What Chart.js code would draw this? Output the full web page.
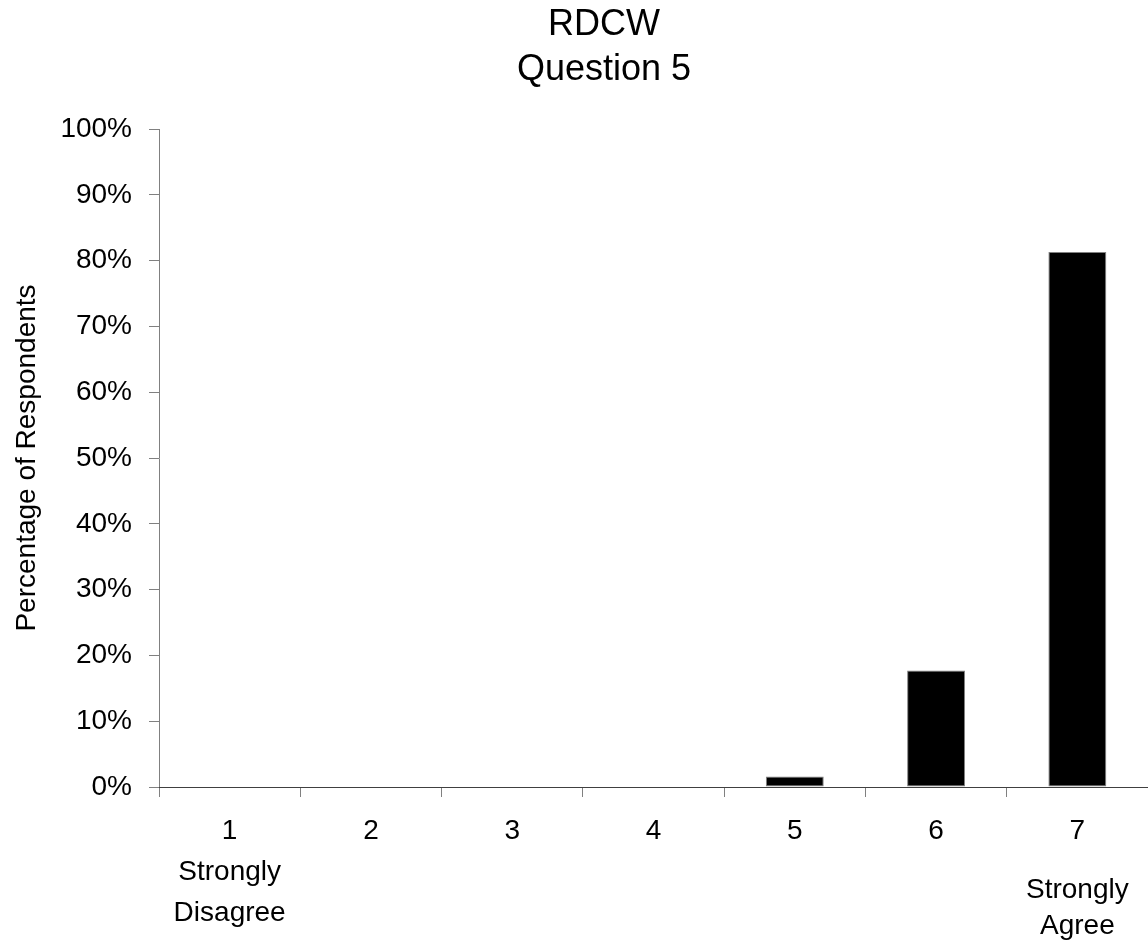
<!DOCTYPE html>
<html>
<head>
<meta charset="utf-8">
<title>RDCW Question 5</title>
<script src="https://cdn.jsdelivr.net/npm/chart.js@4"></script>
<style>
  html, body { margin: 0; padding: 0; background: #fff; }
  #wrap { width: 1148px; height: 945px; }
</style>
</head>
<body>
<div id="wrap"><canvas id="chart"></canvas></div>
<script>
// --- Datos del gráfico ---
const categories = ['1', '2', '3', '4', '5', '6', '7'];
const anchorLabels = ['Strongly Disagree', '', '', '', '', '', 'Strongly Agree'];
const percentages = [0, 0, 0, 0, 1.6, 17.7, 81.3];
const yTicks = [0, 10, 20, 30, 40, 50, 60, 70, 80, 90, 100];

// Eje X principal: número + "Strongly Disagree" bajo el 1
const xLabels = categories.map((c, i) => (i === 0 ? [c, ...anchorLabels[i].split(' ')] : [c]));
// Eje X secundario: solo "Strongly Agree" bajo el 7 (va más abajo en el original)
const x2Labels = categories.map((c, i) => (i === categories.length - 1 ? anchorLabels[i].split(' ') : ''));

const FONT = 'Arial, "Liberation Sans", sans-serif';
const AXIS_GREY = '#808080';

const ctx = document.getElementById('chart').getContext('2d');
new Chart(ctx, {
    type: 'bar',
    data: {
        labels: xLabels,
        datasets: [{
            label: 'Percentage of Respondents',
            data: percentages,
            backgroundColor: '#000000',
            borderColor: AXIS_GREY,
            borderWidth: 1,
            borderSkipped: false,
            barPercentage: 0.41,
            categoryPercentage: 1
        }]
    },
    options: {
        responsive: true,
        maintainAspectRatio: false,
        animation: false,
        // padding izquierdo para centrar el título como en el original
        layout: { padding: { left: 56, right: -4, top: 0, bottom: 0 } },
        scales: {
            y: {
                min: 0,
                max: 100,
                afterBuildTicks: scale => { scale.ticks = yTicks.map(v => ({ value: v })); },
                afterFit: scale => { scale.width = 103; },
                grid: {
                    drawOnChartArea: false,
                    drawTicks: true,
                    tickLength: 10,
                    color: AXIS_GREY
                },
                border: { display: true, color: AXIS_GREY, width: 1 },
                ticks: {
                    padding: 17,
                    color: '#000',
                    font: { family: FONT, size: 28 },
                    callback: v => v + '%'
                },
                title: {
                    display: true,
                    text: 'Percentage of Respondents',
                    color: '#000',
                    font: { family: FONT, size: 28 },
                    padding: { top: -46, bottom: 0 }
                }
            },
            x: {
                afterFit: scale => { scale.height = 158; },
                grid: {
                    offset: true,
                    drawOnChartArea: false,
                    drawTicks: true,
                    tickLength: 10,
                    color: AXIS_GREY
                },
                border: { display: true, color: '#404040', width: 1 },
                ticks: {
                    padding: 14,
                    maxRotation: 0,
                    autoSkip: false,
                    color: '#000',
                    font: { family: FONT, size: 28, lineHeight: '41px' }
                }
            },
            x2: {
                type: 'category',
                position: { y: 0 },
                offset: true,
                labels: x2Labels,
                // marcas invisibles: solo sirven para bajar el texto
                grid: {
                    offset: true,
                    drawOnChartArea: false,
                    drawTicks: true,
                    tickLength: 85,
                    color: 'rgba(0,0,0,0)'
                },
                border: { display: false },
                ticks: {
                    padding: 0,
                    maxRotation: 0,
                    autoSkip: false,
                    color: '#000',
                    font: { family: FONT, size: 28, lineHeight: '36px' }
                }
            }
        },
        plugins: {
            legend: { display: false },
            tooltip: { enabled: false },
            title: {
                display: true,
                text: ['RDCW', 'Question 5'],
                color: '#000',
                font: { family: FONT, size: 36, weight: 'normal', lineHeight: 1.25 },
                padding: { top: 3, bottom: 36 }
            }
        }
    }
});
</script>
</body>
</html>
